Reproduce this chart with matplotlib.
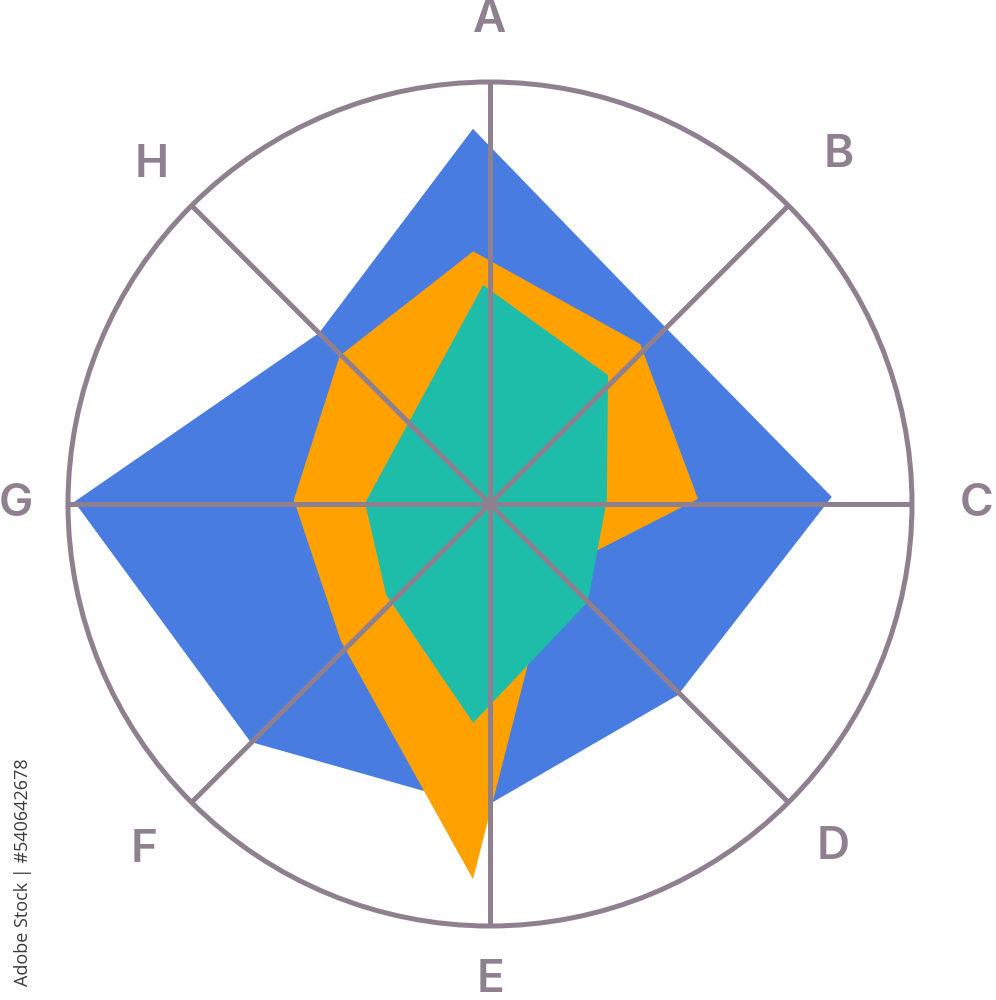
import numpy as np
import matplotlib
matplotlib.use("Agg")
import matplotlib.pyplot as plt
from matplotlib.patches import Circle

# categorias e angulos dos eixos (graus, sentido horario a partir do topo)
categorias = ["A", "B", "C", "D", "E", "F", "G", "H"]
angulos_eixos = [0, 45, 90, 135, 180, 225, 270, 315]

# vertices (angulo em graus, raio relativo ao circulo)
azul_ang = [357.4, 45.0, 88.8, 135.5, 181.3, 225.2, 270.3, 315.0]
azul_r = [0.89, 0.59, 0.81, 0.635, 0.72, 0.80, 0.985, 0.573]

laranja_ang = [356.2, 43.2, 88.6, 138.9, 182.6, 227.4, 271.2, 314.6]
laranja_r = [0.60, 0.52, 0.493, 0.22, 0.89, 0.48, 0.465, 0.50]

verde_ang = [358.2, 42.5, 88.0, 135.0, 184.4, 228.8, 270.5]
verde_r = [0.519, 0.414, 0.277, 0.328, 0.52, 0.327, 0.296]

# distancia dos rotulos ao centro (estilo)
raio_rotulos = [1.147, 1.17, 1.154, 1.15, 1.128, 1.159, 1.123, 1.135]

cor_linha = "#8f808f"
cores = ["#487ce0", "#ffa101", "#1dbdaa"]

# centro e raio em pixels (figura 996x1000)
cx, cy, raio = 490, 504, 422


def polar_xy(ang, r):
    t = np.radians(np.asarray(ang))
    r = np.asarray(r)
    return r * np.sin(t), r * np.cos(t)


fig = plt.figure(figsize=(9.96, 10), dpi=100)
ax = fig.add_axes([0, 0, 1, 1])
ax.set_xlim(-cx / raio, (996 - cx) / raio)
ax.set_ylim(-(1000 - cy) / raio, cy / raio)
ax.axis("off")

for ang, r, cor in [(azul_ang, azul_r, cores[0]),
                    (laranja_ang, laranja_r, cores[1]),
                    (verde_ang, verde_r, cores[2])]:
    x, y = polar_xy(ang, r)
    ax.fill(x, y, color=cor, lw=0, zorder=2)

# eixos radiais
for a in angulos_eixos:
    x, y = polar_xy([a, a], [0, 1])
    ax.plot(x, y, color=cor_linha, lw=3.6, solid_capstyle="butt", zorder=3)

ax.add_patch(Circle((0, 0), 1, fill=False, ec=cor_linha, lw=3.6, zorder=4))

# rotulos
for nome, a, rr in zip(categorias, angulos_eixos, raio_rotulos):
    x, y = polar_xy(a, rr)
    ax.text(x, y, nome, ha="center", va="center", fontsize=33,
            color=cor_linha, family="Inter", fontweight="semibold")

fig.text(23 / 996, 1 - 872 / 1000, "Adobe Stock | #540642678", rotation=90,
         ha="center", va="center", fontsize=13, color="#3a3a3a", family="Open Sans")

fig.savefig("out.png", dpi=100)
